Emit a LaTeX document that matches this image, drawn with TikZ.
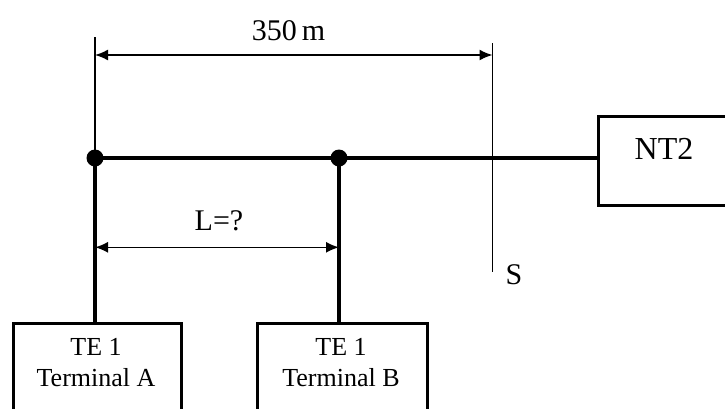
\documentclass[tikz,border=0pt]{standalone}
\usepackage{fontspec}
\setmainfont{Liberation Serif}
\usetikzlibrary{arrows.meta}
\begin{document}
\begin{tikzpicture}[x=1pt,y=-1pt,
  boxshape/.style={draw,line width=3pt,inner sep=0pt,anchor=north west},
  boxtext/.style={inner sep=0pt,align=center,font=\fontsize{26}{31}\selectfont,anchor=base},
  lbl/.style={inner sep=0pt,font=\fontsize{30}{34}\selectfont,anchor=base},
  bus/.style={line width=4pt},
  fine/.style={line width=1.6pt},
  dimarrow/.style={fine,{Latex[length=13pt,width=11pt]}-{Latex[length=13pt,width=11pt]}},
  dotnode/.style={circle,fill=black,inner sep=0pt,minimum size=17pt}
]
\useasboundingbox (0,0) rectangle (725,408);
\clip (0,0) rectangle (725,408);
% boxes
\node[boxshape,minimum width=168,minimum height=110] (ta) at (12,322) {};
\node[boxshape,minimum width=170,minimum height=110] (tb) at (256,322) {};
\node[boxshape,minimum width=160,minimum height=89] (nt2) at (597,115) {};
\node[boxtext] (tatext1) at (96,355.7) {TE 1};
\node[boxtext] (tatext2) at (96,386.7) {Terminal A};
\node[boxtext] (tbtext1) at (341,355.7) {TE 1};
\node[boxtext] (tbtext2) at (341,386.7) {Terminal B};
\node[lbl,font=\fontsize{32}{36}\selectfont] (nt2text) at (664,159) {NT2};
% dots
\node[dotnode] (dA) at (95,158) {};
\node[dotnode] (dB) at (339,158) {};
% bus
\draw[bus] (dA.center) -- (dA.center -| nt2.west);
\draw[bus] (dA.center) -- (dA.center |- ta.north);
\draw[bus] (dB.center) -- (dB.center |- tb.north);
% dimension lines
\coordinate (a1) at (95,37);
\coordinate (s1) at (492.5,43);
\coordinate (s2) at (492.5,272);
\coordinate (dimL) at (95,55);
\coordinate (dimR) at (492.5,55);
\coordinate (lL) at (95,247.3);
\coordinate (lR) at (339,247.3);
\draw[fine] (a1) -- (dA.center);
\draw[fine] (s1) -- (s2);
\draw[dimarrow] (dimL) -- (dimR);
\draw[dimarrow] (lL) -- (lR);
% labels
\node[lbl] (len) at (288.5,40.7) {350\,m};
\node[lbl] (lq) at (219,230.7) {L=?};
\node[lbl] (s) at (514,284) {S};
\end{tikzpicture}
\end{document}
